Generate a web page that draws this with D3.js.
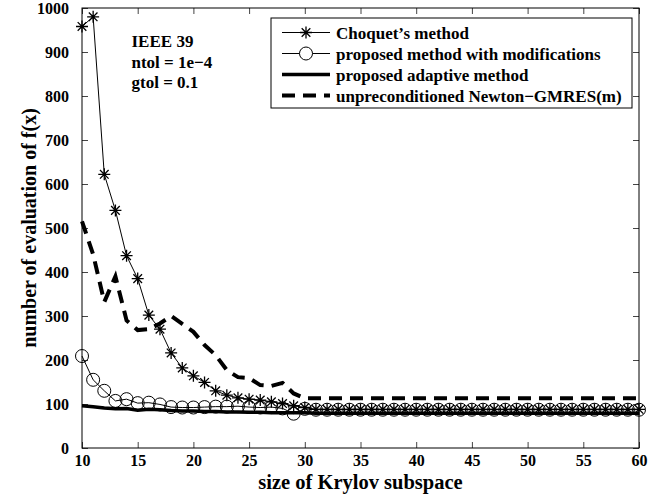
<!DOCTYPE html>
<html>
<head>
<meta charset="utf-8">
<script src="https://cdn.jsdelivr.net/npm/d3@7"></script>
<style>
body { margin: 0; background: #fff; }
svg text { font-family: "Liberation Serif", "Times New Roman", Tinos, "Nimbus Roman", "DejaVu Serif", serif; font-weight: bold; fill: #000; }
</style>
</head>
<body>
<div id="chart"></div>
<script>
// krylov subspace sizes 10..60
var krylovSizes = [10,11,12,13,14,15,16,17,18,19,20,21,22,23,24,25,26,27,28,29,30,
    31,32,33,34,35,36,37,38,39,40,41,42,43,44,45,46,47,48,49,50,
    51,52,53,54,55,56,57,58,59,60];

var choquetVals = [958,980,622,540,437,385,302,270,216,182,164,149,130,120,114,111,109,105,101,96,92,
    88,88,88,88,88,88,88,88,88,88,88,88,88,88,88,88,88,88,88,88,
    88,88,88,88,88,88,88,88,88,88];

var modifiedVals = [209,155,130,107,111,102,103,99,93,92,92,93,94,94,95,93,92,93,90,78,89,
    87,87,87,87,87,87,87,87,87,87,87,87,87,87,87,87,87,87,87,87,
    87,87,87,87,87,87,87,87,87,87];

var adaptiveVals = [96,94,91,89,90,86,88,87,85,84,84,83,83,82,82,81,81,80,80,80,80,
    79,79,79,79,79,79,79,79,79,79,79,79,79,79,79,79,79,79,79,79,
    79,79,79,79,79,79,79,79,79,79];

var unprecondVals = [515,440,332,390,290,268,270,283,300,282,264,234,211,177,161,159,143,141,148,124,113,
    113,113,113,113,113,113,113,113,113,113,113,113,113,113,113,113,113,113,113,113,
    113,113,113,113,113,113,113,113,113,113];

var xTicks = [10,15,20,25,30,35,40,45,50,55,60];
var yTicks = [0,100,200,300,400,500,600,700,800,900,1000];

var legendNames = ["Choquet\u2019s method", "proposed method with modifications",
    "proposed adaptive method", "unpreconditioned Newton\u2212GMRES(m)"];
var noteLines = ["IEEE 39", "ntol = 1e\u22124", "gtol = 0.1"];

var serif = "\"Liberation Serif\", \"Times New Roman\", Tinos, \"Nimbus Roman\", \"DejaVu Serif\", serif";

var margin = {top: 8, right: 10, bottom: 51, left: 82},
    width = 649 - margin.left - margin.right,
    height = 499 - margin.top - margin.bottom;

var svg = d3.select("#chart")
    .append("svg")
    .attr("width", 649)
    .attr("height", 499)
    .append("g")
    .attr("transform", "translate(" + margin.left + "," + margin.top + ")");

var x = d3.scaleLinear().domain([10, 60]).range([0, width]);
var y = d3.scaleLinear().domain([0, 1000]).range([height, 0]);

// axes, matlab style: ticks inside, box around
svg.append("g")
    .attr("transform", "translate(0," + height + ")")
    .call(d3.axisBottom(x).tickValues(xTicks).tickSize(-6).tickPadding(7).tickFormat(d3.format("d")))
    .attr("font-family", serif)
    .style("font-size", "16px");
svg.append("g")
    .call(d3.axisTop(x).tickValues(xTicks).tickSize(-6).tickFormat(""));
svg.append("g")
    .call(d3.axisLeft(y).tickValues(yTicks).tickSize(-6).tickPadding(13).tickFormat(d3.format("d")))
    .attr("font-family", serif)
    .style("font-size", "16px");
svg.append("g")
    .attr("transform", "translate(" + width + ",0)")
    .call(d3.axisRight(y).tickValues(yTicks).tickSize(-6).tickFormat(""));
svg.selectAll(".domain").remove();
svg.selectAll(".tick line").attr("stroke", "#444");

svg.append("rect")
    .attr("width", width)
    .attr("height", height)
    .attr("fill", "none")
    .attr("stroke", "#000")
    .attr("stroke-width", 1);

var pts = function(vals) {
    return krylovSizes.map(function(k, i) { return [k, vals[i]]; });
};
var line = d3.line()
    .x(function(d) { return x(d[0]); })
    .y(function(d) { return y(d[1]); });

svg.append("path").datum(pts(unprecondVals))
    .attr("d", line).attr("fill", "none").attr("stroke", "#000")
    .attr("stroke-width", 4).attr("stroke-dasharray", "13,8");

svg.append("path").datum(pts(adaptiveVals))
    .attr("d", line).attr("fill", "none").attr("stroke", "#000")
    .attr("stroke-width", 3.5);

svg.append("path").datum(pts(modifiedVals))
    .attr("d", line).attr("fill", "none").attr("stroke", "#000")
    .attr("stroke-width", 1);

svg.append("path").datum(pts(choquetVals))
    .attr("d", line).attr("fill", "none").attr("stroke", "#000")
    .attr("stroke-width", 1);

function starPath(r) {
    var d = r * 0.72;
    return "M" + (-r) + ",0L" + r + ",0M0," + (-r) + "L0," + r +
        "M" + (-d) + "," + (-d) + "L" + d + "," + d +
        "M" + (-d) + "," + d + "L" + d + "," + (-d);
}

svg.selectAll(".circ")
    .data(pts(modifiedVals))
    .enter()
    .append("circle")
    .attr("cx", function(d) { return x(d[0]); })
    .attr("cy", function(d) { return y(d[1]); })
    .attr("r", 6.5)
    .attr("fill", "none")
    .attr("stroke", "#000")
    .attr("stroke-width", 1);

svg.selectAll(".star")
    .data(pts(choquetVals))
    .enter()
    .append("path")
    .attr("transform", function(d) { return "translate(" + x(d[0]) + "," + y(d[1]) + ")"; })
    .attr("d", starPath(6))
    .attr("stroke", "#000")
    .attr("stroke-width", 1.3);

// annotation
svg.append("g").selectAll("text")
    .data(noteLines)
    .enter()
    .append("text")
    .attr("x", 131.5 - margin.left)
    .attr("y", function(d, i) { return 47 - margin.top + i * 20.5; })
    .style("font-size", "17px")
    .text(function(d) { return d; });

// legend
var lg = svg.append("g").attr("transform", "translate(" + (271 - margin.left) + "," + (18 - margin.top) + ")");
lg.append("rect")
    .attr("width", 361)
    .attr("height", 90)
    .attr("fill", "#fff")
    .attr("stroke", "#000")
    .attr("stroke-width", 1);

var rows = lg.selectAll(".row")
    .data(legendNames)
    .enter()
    .append("g")
    .attr("transform", function(d, i) { return "translate(0," + (14.5 + i * 21) + ")"; });

rows.append("line")
    .attr("x1", 11).attr("x2", 59).attr("y1", 0).attr("y2", 0)
    .attr("stroke", "#000")
    .attr("stroke-width", function(d, i) { return i < 2 ? 1 : (i == 2 ? 3.5 : 4); })
    .attr("stroke-dasharray", function(d, i) { return i == 3 ? "13,8" : null; });

rows.filter(function(d, i) { return i == 0; })
    .append("path").attr("transform", "translate(35,0)").attr("d", starPath(6))
    .attr("stroke", "#000").attr("stroke-width", 1.3);
rows.filter(function(d, i) { return i == 1; })
    .append("circle").attr("cx", 35).attr("cy", 0).attr("r", 6.5)
    .attr("fill", "#fff").attr("stroke", "#000");

rows.append("text")
    .attr("x", 65)
    .attr("y", 6)
    .style("font-size", "17px")
    .text(function(d) { return d; });

// axis labels
svg.append("text")
    .attr("x", width / 2)
    .attr("y", height + 41)
    .attr("text-anchor", "middle")
    .style("font-size", "20.5px")
    .text("size of Krylov subspace");

svg.append("text")
    .attr("transform", "translate(" + (36 - margin.left) + "," + (height / 2) + ") rotate(-90)")
    .attr("text-anchor", "middle")
    .style("font-size", "20px")
    .text("number of evaluation of f(x)");
</script>
</body>
</html>
